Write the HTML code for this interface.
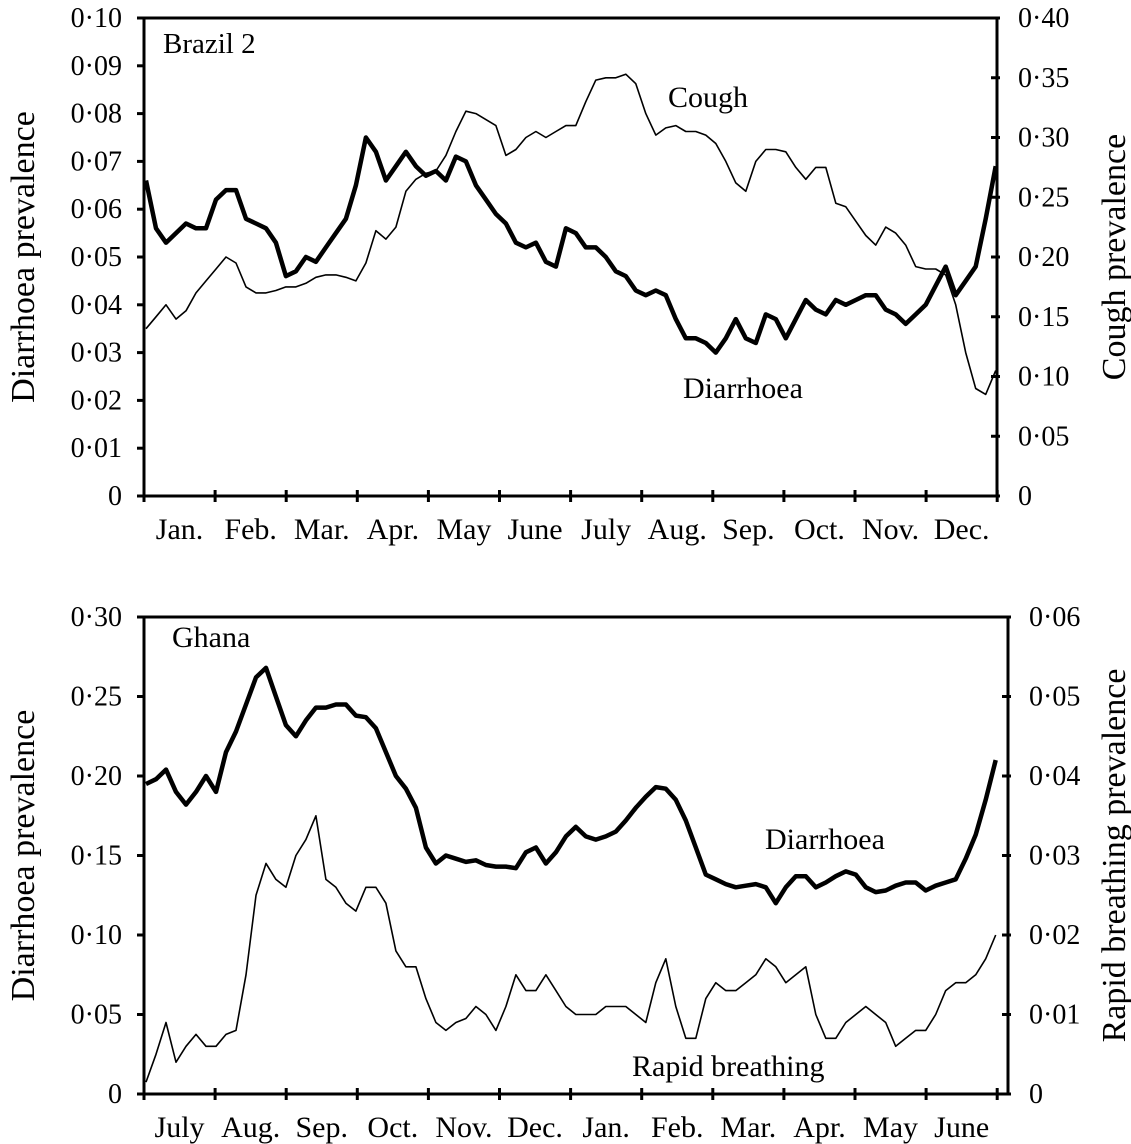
<!DOCTYPE html>
<html><head><meta charset="utf-8"><style>
html,body{margin:0;padding:0;background:#fff}
svg{display:block}
text{font-family:"Liberation Serif",serif;fill:#000}
</style></head><body>
<svg id="chart" width="1131" height="1144" viewBox="0 0 1131 1144" xmlns="http://www.w3.org/2000/svg"></svg>
<script>
const topMonths = ["Jan.","Feb.","Mar.","Apr.","May","June","July","Aug.","Sep.","Oct.","Nov.","Dec."];
const botMonths = ["July","Aug.","Sep.","Oct.","Nov.","Dec.","Jan.","Feb.","Mar.","Apr.","May","June"];
const topLeftTicks = ["0","0·01","0·02","0·03","0·04","0·05","0·06","0·07","0·08","0·09","0·10"];
const topRightTicks = ["0","0·05","0·10","0·15","0·20","0·25","0·30","0·35","0·40"];
const botLeftTicks = ["0","0·05","0·10","0·15","0·20","0·25","0·30"];
const botRightTicks = ["0","0·01","0·02","0·03","0·04","0·05","0·06"];
const sampleStart = 0.028; // months
const sampleStep = 0.1406; // months
const brazilDiarrhoea = [.066,.056,.053,.055,.057,.056,.056,.062,.064,.064,.058,.057,.056,.053,.046,.047,.050,.049,.052,.055,.058,.065,.075,.072,.066,.069,.072,.069,.067,.068,.066,.071,.070,.065,.062,.059,.057,.053,.052,.053,.049,.048,.056,.055,.052,.052,.050,.047,.046,.043,.042,.043,.042,.037,.033,.033,.032,.030,.033,.037,.033,.032,.038,.037,.033,.037,.041,.039,.038,.041,.040,.041,.042,.042,.039,.038,.036,.038,.040,.044,.048,.042,.045,.048,.058,.069];
const brazilCough = [.140,.150,.160,.148,.155,.170,.180,.190,.200,.195,.175,.170,.170,.172,.175,.175,.178,.183,.185,.185,.183,.180,.195,.222,.215,.225,.255,.265,.270,.272,.285,.305,.322,.320,.315,.310,.285,.290,.300,.305,.300,.305,.310,.310,.330,.348,.350,.350,.353,.345,.320,.302,.308,.310,.305,.305,.302,.295,.280,.262,.255,.280,.290,.290,.288,.275,.265,.275,.275,.245,.242,.230,.218,.210,.225,.220,.210,.192,.190,.190,.185,.160,.120,.090,.085,.105];
const ghanaDiarrhoea = [.195,.198,.204,.190,.182,.190,.200,.190,.215,.228,.245,.262,.268,.250,.232,.225,.235,.243,.243,.245,.245,.238,.237,.230,.215,.200,.192,.180,.155,.145,.150,.148,.146,.147,.144,.143,.143,.142,.152,.155,.145,.152,.162,.168,.162,.160,.162,.165,.172,.180,.187,.193,.192,.185,.172,.155,.138,.135,.132,.130,.131,.132,.130,.120,.130,.137,.137,.130,.133,.137,.140,.138,.130,.127,.128,.131,.133,.133,.128,.131,.133,.135,.148,.163,.185,.210];
const ghanaRapid = [.0015,.005,.009,.004,.006,.0075,.006,.006,.0075,.008,.015,.025,.029,.027,.026,.030,.032,.035,.027,.026,.024,.023,.026,.026,.024,.018,.016,.016,.012,.009,.008,.009,.0095,.011,.010,.008,.011,.015,.013,.013,.015,.013,.011,.010,.010,.010,.011,.011,.011,.010,.009,.014,.017,.011,.007,.007,.012,.014,.013,.013,.014,.015,.017,.016,.014,.015,.016,.010,.007,.007,.009,.010,.011,.010,.009,.006,.007,.008,.008,.010,.013,.014,.014,.015,.017,.020];

const svg = document.getElementById('chart');
const NS = "http://www.w3.org/2000/svg";
function mk(tag, attrs, parent){const e=document.createElementNS(NS,tag);for(const k in attrs)e.setAttribute(k,attrs[k]);(parent||svg).appendChild(e);return e;}
const X0=144, MW=71.1;
const xs = t => X0 + t*MW;

function panel(cfg){
  const XR = cfg.xr;
  const g = mk('g',{});
  
  
  const yTop=cfg.top, yBot=cfg.bot;
  const yl = v => yBot - v/cfg.lmax*(yBot-yTop);
  const yr = v => yBot - v/cfg.rmax*(yBot-yTop);
  const fr = mk('rect',{x:X0,y:yTop,width:XR-X0,height:yBot-yTop,fill:'none',stroke:'#000','stroke-width':3},g);
  
  
  cfg.lticks.forEach((lab,i)=>{
    const v = i*cfg.lmax/(cfg.lticks.length-1), y=yl(v);
    mk('line',{x1:X0-7,x2:X0,y1:y,y2:y,stroke:'#000','stroke-width':3},g);
    const t = mk('text',{x:X0-22,y:y+9,'font-size':28,'text-anchor':'end'},g);
    t.textContent = lab;
    
    
  });
  cfg.rticks.forEach((lab,i)=>{
    const v = i*cfg.rmax/(cfg.rticks.length-1), y=yr(v);
    mk('line',{x1:XR-6,x2:XR+3,y1:y,y2:y,stroke:'#000','stroke-width':3},g);
    const t = mk('text',{x:XR+21,y:y+9,'font-size':28,'text-anchor':'start'},g);
    t.textContent = lab;
    
    
  });
  for(let m=0;m<=12;m++){
    mk('line',{x1:xs(m),x2:xs(m),y1:yBot-6,y2:yBot+6,stroke:'#000','stroke-width':3},g);
  }
  cfg.months.forEach((lab,i)=>{
    const t = mk('text',{x:xs(i+0.5),y:yBot+43,'font-size':30,'text-anchor':'middle'},g);
    t.textContent = lab;
    
    
  });
  const cy=(yTop+yBot)/2;
  const lt = mk('text',{x:0,y:0,'font-size':34,'text-anchor':'middle',transform:`translate(34,${cy}) rotate(-90)`},g);
  lt.textContent = cfg.ltitle;
  
  
  const rt = mk('text',{x:0,y:0,'font-size':34,'text-anchor':'middle',transform:`translate(1125,${cy}) rotate(-90)`},g);
  rt.textContent = cfg.rtitle;
  
  
  function line(vals, yfn, w, name){
    const d = vals.map((v,k)=>(k?'L':'M')+xs(sampleStart+k*sampleStep).toFixed(1)+','+yfn(v).toFixed(1)).join(' ');
    const p = mk('path',{d:d,fill:'none',stroke:'#000','stroke-width':w,'stroke-linejoin':'round'},g);
    
    
  }
  line(cfg.rseries, yr, 1.6, cfg.rname);
  line(cfg.lseries, yl, 4.5, cfg.lname);
  cfg.labels.forEach(l=>{
    const t = mk('text',{x:l[1],y:l[2],'font-size':l[3]},g);
    t.textContent = l[0];
    
    
  });
}
panel({name:'brazil-panel',xr:997,top:18,bot:496,lmax:0.10,rmax:0.40,lticks:topLeftTicks,rticks:topRightTicks,months:topMonths,
  ltitle:'Diarrhoea prevalence',rtitle:'Cough prevalence',lseries:brazilDiarrhoea,rseries:brazilCough,lname:'diarrhoea-line',rname:'cough-line',
  labels:[['Brazil 2',163,53,29,'panel-title'],['Cough',668,107,30,'cough-label'],['Diarrhoea',683,398,30,'diarrhoea-label']]});
panel({name:'ghana-panel',xr:1008,top:617,bot:1094,lmax:0.30,rmax:0.06,lticks:botLeftTicks,rticks:botRightTicks,months:botMonths,
  ltitle:'Diarrhoea prevalence',rtitle:'Rapid breathing prevalence',lseries:ghanaDiarrhoea,rseries:ghanaRapid,lname:'diarrhoea-line',rname:'rapid-breathing-line',
  labels:[['Ghana',172,647,30,'panel-title'],['Diarrhoea',765,849,30,'diarrhoea-label'],['Rapid breathing',632,1076,30,'rapid-breathing-label']]});
</script>
</body></html>
